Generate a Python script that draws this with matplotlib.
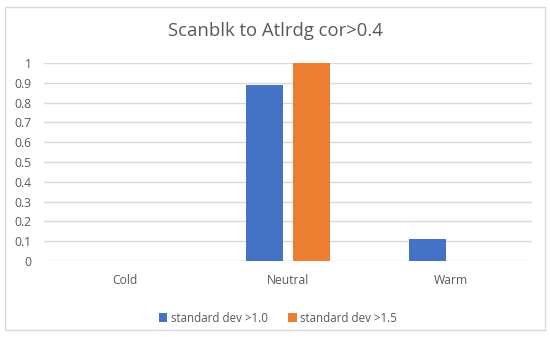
import matplotlib
matplotlib.use("Agg")
import matplotlib.pyplot as plt
import numpy as np
from matplotlib.patches import Rectangle

categories = ["Cold", "Neutral", "Warm"]
series_names = ["standard dev >1.0", "standard dev >1.5"]
sd10 = [0, 0.89, 0.11]
sd15 = [0, 1.0, 0]
yticks = [0, 0.1, 0.2, 0.3, 0.4, 0.5, 0.6, 0.7, 0.8, 0.9, 1]
ytick_labels = ["0", "0.1", "0.2", "0.3", "0.4", "0.5", "0.6", "0.7", "0.8", "0.9", "1"]

plt.rcParams['font.family'] = ['Open Sans', 'DejaVu Sans']
fig = plt.figure(figsize=(5.5, 3.37), dpi=100)
fig.patches.append(Rectangle((5/550, 7/337), 540/550, 323/337, transform=fig.transFigure,
                             fill=False, edgecolor="#d9d9d9", linewidth=1))
ax = fig.add_axes([44/550, 1 - 261/337, (532-44)/550, (261-63)/337])

x = np.arange(len(categories))
w = 0.227
off = 0.143
ax.bar(x - off, sd10, w, color="#4472c4", label=series_names[0], zorder=3)
ax.bar(x + off, sd15, w, color="#ed7d31", label=series_names[1], zorder=3)

ax.set_xlim(-0.5, 2.5)
ax.set_ylim(0, 1)
ax.set_yticks(yticks)
ax.set_yticklabels(ytick_labels)
ax.set_xticks(x)
ax.set_xticklabels(categories)
ax.yaxis.grid(True, color="#d9d9d9", linewidth=1, zorder=0)
for s in ax.spines.values():
    s.set_visible(False)
ax.tick_params(axis="both", length=0, colors="#595959", labelsize=8.7)
ax.tick_params(axis="y", pad=9)
ax.tick_params(axis="x", pad=9)

fig.text(0.5, 1 - 31/337, "Scanblk to Atlrdg cor>0.4", ha="center", va="center",
         fontsize=13.3, color="#595959")
fig.legend(loc="center", bbox_to_anchor=(278/550, 1 - 318/337), ncol=2, frameon=False,
           fontsize=8.3, handlelength=0.7, handleheight=0.7, handletextpad=0.3,
           columnspacing=1.8, labelcolor="#595959")
fig.savefig("out.png", dpi=100)
